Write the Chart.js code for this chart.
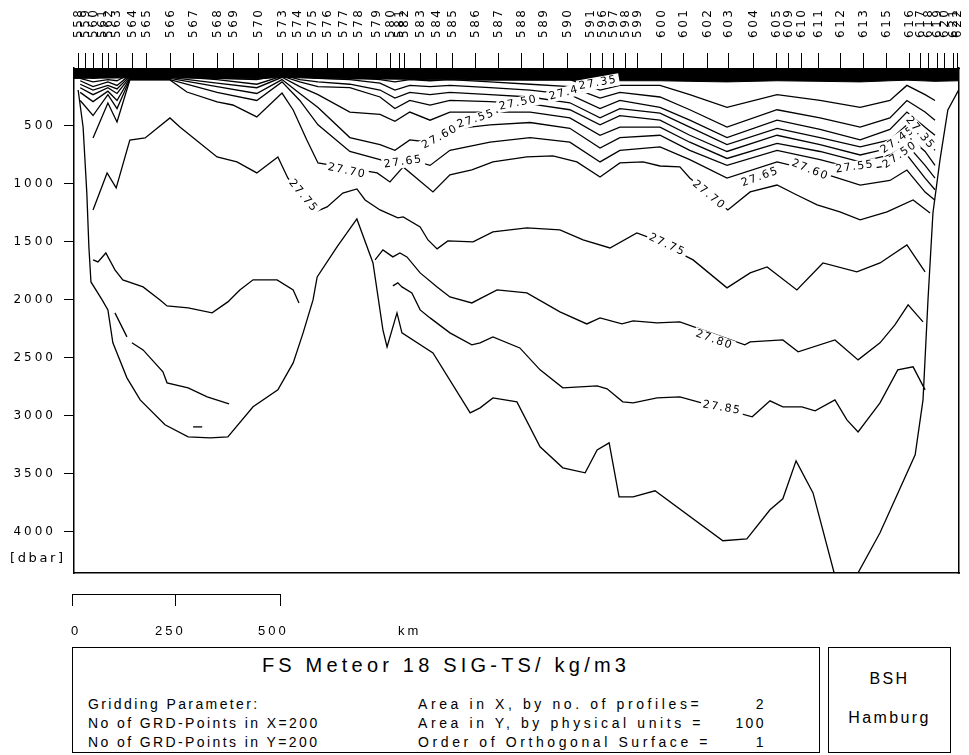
<!DOCTYPE html>
<html>
<head>
<meta charset="utf-8">
<script src="https://cdn.jsdelivr.net/npm/chart.js@4.4.1/dist/chart.umd.min.js"></script>
<style>
  body { margin: 0; background: #fff; width: 969px; height: 755px; position: relative; overflow: hidden;
         font-family: "Liberation Sans", Arial, sans-serif; color: #000; }
  #wrap { position: absolute; left: 0; top: 0; width: 969px; height: 600px; }
  .t { position: absolute; white-space: nowrap; line-height: 1; font-size: 14px; letter-spacing: 2.4px; }
  .r { letter-spacing: 3.6px; }
  .box { position: absolute; border: 1px solid #000; }
  .ln { position: absolute; background: #000; }
</style>
</head>
<body>
<div id="wrap"><canvas id="c" width="969" height="600"></canvas></div>

<div class="t" style="left:10px;top:551px;font-family:'DejaVu Sans';font-size:13px;letter-spacing:2.6px">[dbar]</div>

<!-- distance scale -->
<div class="ln" style="left:72px;top:594px;width:209px;height:1px"></div>
<div class="ln" style="left:72px;top:594px;width:1px;height:12px"></div>
<div class="ln" style="left:175px;top:594px;width:1px;height:12px"></div>
<div class="ln" style="left:280px;top:594px;width:1px;height:12px"></div>
<div class="t" style="left:71px;top:624px;font-size:13px;letter-spacing:3px">0</div>
<div class="t" style="left:155px;top:624px;font-size:13px;letter-spacing:3px">250</div>
<div class="t" style="left:258px;top:624px;font-size:13px;letter-spacing:3px">500</div>
<div class="t" style="left:398px;top:624px;font-size:13px;letter-spacing:3px">km</div>

<!-- info boxes -->
<div class="box" style="left:72px;top:647px;width:746px;height:104px"></div>
<div class="box" style="left:828px;top:647px;width:121px;height:104px"></div>
<div class="t" style="left:72px;width:748px;text-align:center;top:655px;font-size:20px;letter-spacing:4.2px">FS Meteor 18 SIG-TS/ kg/m3</div>
<div class="t" style="left:88px;top:697px">Gridding Parameter:</div>
<div class="t" style="left:88px;top:716px">No of GRD-Points in X=200</div>
<div class="t" style="left:88px;top:735px">No of GRD-Points in Y=200</div>
<div class="t r" style="left:418px;top:697px">Area in X, by no. of profiles=</div>
<div class="t r" style="left:418px;top:716px">Area in Y, by physical units =</div>
<div class="t r" style="left:418px;top:735px">Order of Orthogonal Surface =</div>
<div class="t" style="right:203px;top:697px">2</div>
<div class="t" style="right:203px;top:716px">100</div>
<div class="t" style="right:203px;top:735px">1</div>
<div class="t" style="left:828px;width:123px;text-align:center;top:671px;font-size:16px">BSH</div>
<div class="t" style="left:828px;width:123px;text-align:center;top:710px;font-size:16px">Hamburg</div>

<script>
// stations along the section (top axis)
const stationNames = ['558','559','560','561','562','563','564','565','566','567','568','569','570',
  '573','574','575','576','577','578','579','580','581','582','583','584','585','586','587','588',
  '589','590','591','596','597','598','599','600','601','602','603','604','605','609','610','611',
  '612','613','615','616','617','618','619','620','621','622'];
const stationKm = [10,27,46,68,82,102,140,174,232,288,346,384,445,
  503,539,575,611,650,687,730,764,786,798,837,875,914,970,1025,1081,
  1134,1192,1248,1277,1303,1332,1361,1419,1473,1531,1581,1642,1697,1726,1758,1799,
  1852,1908,1963,2019,2046,2065,2087,2104,2125,2135];
const depthTicks = [500,1000,1500,2000,2500,3000,3500,4000];

// sea floor
const floorKm = [10,22,31,36,41,68,82,94,128,160,220,276,329,372,433,493,530,554,578,588,636,684,723,747,757,
  781,793,868,958,982,1013,1071,1127,1182,1236,1265,1294,1318,1352,1405,1569,1627,1683,1714,1746,1787,1838,
  1867,1896,1949,2034,2053,2065,2077,2094,2113,2142];
const floorDbar = [190,509,1078,1543,1845,2000,2086,2370,2672,2862,3077,3181,3189,3181,2922,2776,2543,2284,2000,1802,
  1543,1302,1681,2258,2405,2112,2284,2457,2974,2931,2845,2879,3267,3448,3491,3293,3233,3698,3698,3646,4077,4060,
  3810,3715,3388,3664,4353,4586,4353,4008,3336,2862,2000,1250,793,362,172];

// dense surface layer
const bandKm = [0,135,232,346,442,503,590,667,740,861,1006,1103,1199,1272,1320,1417,1489,1579,1700,1804,1901,1973,2014,2082,2140];
const bandDbar = [90,85,85,90,95,80,90,95,95,100,105,105,105,115,110,110,115,120,110,115,120,110,105,115,110];

// upper isopycnals 27.30 ... 27.65 on common columns
const upperKm = [15,46,82,104,135,232,346,442,503,546,590,667,740,776,812,861,909,1006,1103,1199,1272,1320,1417,1489,1579,1700,1804,1901,1973,2014,2058,2082];
const sig3000 = [30,50,40,50,30,30,40,40,30,40,50,60,70,80,70,80,80,90,100,100,190,150,150,230,340,230,280,340,280,150,230,280];
const sig3500 = [60,90,70,80,40,40,50,60,40,50,70,80,100,120,100,110,100,120,140,160,260,210,250,360,510,360,430,510,430,280,380,450];
const sig4000 = [90,120,100,110,50,50,70,80,50,70,90,100,130,190,150,160,150,170,190,230,350,280,340,450,600,450,530,620,530,380,510,580];
const sig4500 = [110,160,120,150,60,60,90,100,60,100,120,140,190,260,210,230,210,230,250,300,430,350,390,510,660,520,600,680,620,490,620,710];
const sig5000 = [140,190,150,180,70,70,100,140,70,120,160,170,250,350,280,320,280,290,310,360,490,410,450,580,720,580,660,750,690,580,720,840];
const sig5500 = [170,230,170,220,80,80,130,170,80,160,230,380,400,460,380,450,380,380,380,430,580,510,510,640,780,650,720,810,750,660,840,950];
const sig6000 = [210,290,200,280,90,90,160,220,100,220,340,600,660,710,620,640,530,490,470,520,690,600,580,710,840,710,790,880,840,750,950,1050];
const sig6500 = [280,410,230,350,100,100,210,280,120,280,490,720,790,840,790,840,710,640,600,640,810,710,680,790,950,810,900,1010,970,880,1070,1140];

// 27.70
const sig7000Km = [46,82,104,135,232,273,346,384,442,503,530,563,590,733,764,796,868,909,962,1013,1095,1158,1216,1272,1320,
  1376,1417,1465,1489,1581,1635,1700,1748,1797,1852,1901,1966,2029,2070];
const sig7000 = [603,302,465,103,103,207,293,319,422,216,362,621,819,905,983,853,1069,922,879,810,767,758,810,940,819,
  810,845,853,948,1224,1069,1009,1095,1181,1241,1310,1241,1138,1250];
// 27.75
const sig7500Km = [46,80,102,135,172,232,256,346,394,442,493,517,583,612,650,684,704,740,783,796,837,856,878,904,965,
  1013,1095,1175,1231,1296,1361,1393,1497,1579,1635,1676,1748,1811,1893,1949,2014,2058];
const sig7500 = [1224,905,1034,621,603,431,509,767,810,905,767,948,1241,1198,1078,1043,1138,1224,1293,1284,1371,1483,1560,1491,1500,
  1414,1379,1396,1483,1552,1422,1465,1655,1896,1767,1715,1914,1681,1758,1681,1526,1758];
// 27.80 west basin and main section
const sig8000WKm = [46,58,77,99,118,167,208,225,276,334,372,401,433,491,530,544];
const sig8000W = [1655,1672,1595,1741,1827,1888,2000,2052,2069,2112,2017,1914,1827,1827,1914,2026];
const sig8000Km = [728,747,771,788,805,837,878,909,962,1023,1095,1175,1240,1272,1325,1352,1410,1465,1622,1635,
  1714,1751,1840,1896,1949,1985,2017,2053];
const sig8000 = [1655,1569,1629,1595,1629,1767,1888,1974,2026,1914,1940,2103,2207,2155,2207,2181,2198,2189,2388,2362,
  2345,2448,2345,2517,2370,2215,2043,2189];
// 27.85
const sig8500WKm = [99,128,134,140,167,215,225,276,322,375];
const sig8500W = [2112,2319,null,2370,2431,2620,2715,2758,2836,2896];
const sig8500DashKm = [288,310];
const sig8500Dash = [3095,3095];
const sig8500Km = [771,783,793,817,837,861,909,962,982,1013,1078,1127,1182,1265,1289,1327,1352,1410,1465,1640,
  1683,1714,1760,1792,1840,1869,1896,1949,1992,2029,2058];
const sig8500 = [1879,1853,1888,1940,2086,2155,2284,2388,2370,2319,2414,2603,2758,2741,2767,2879,2888,2845,2836,3008,
  2870,2922,2922,2957,2862,3034,3138,2888,2603,2577,2776];

// contour labels
const isoLabels = [
  { t: '27.70', km: 660,  dbar: 888,  a: 12 },
  { t: '27.75', km: 554,  dbar: 1103, a: 50 },
  { t: '27.65', km: 796,  dbar: 810,  a: -8 },
  { t: '27.60', km: 885,  dbar: 595,  a: -28 },
  { t: '27.55', km: 972,  dbar: 440,  a: -18 },
  { t: '27.50', km: 1074, dbar: 302,  a: -12 },
  { t: '27.45', km: 1195, dbar: 207,  a: -15 },
  { t: '27.35', km: 1267, dbar: 129,  a: -10 },
  { t: '27.75', km: 1434, dbar: 1526, a: 25 },
  { t: '27.70', km: 1535, dbar: 1095, a: 40 },
  { t: '27.80', km: 1548, dbar: 2345, a: 20 },
  { t: '27.85', km: 1567, dbar: 2931, a: 10 },
  { t: '27.65', km: 1659, dbar: 940,  a: -20 },
  { t: '27.60', km: 1780, dbar: 879,  a: 22 },
  { t: '27.55', km: 1888, dbar: 853,  a: -8 },
  { t: '27.50', km: 1997, dbar: 750,  a: -35 },
  { t: '27.45', km: 1992, dbar: 621,  a: -35 },
  { t: '27.35', km: 2046, dbar: 560,  a: 50 }
];

function line(kms, depths, w) {
  return {
    data: kms.map((k, i) => ({ x: k, y: depths[i] })),
    showLine: true, borderColor: '#000', borderWidth: w || 1.3,
    pointRadius: 0, fill: false, spanGaps: false, clip: 0
  };
}

const band = line(bandKm, bandDbar, 1);
band.fill = 'origin';
band.backgroundColor = '#000';

const datasets = [
  band,
  line(upperKm, sig3000), line(upperKm, sig3500), line(upperKm, sig4000), line(upperKm, sig4500),
  line(upperKm, sig5000), line(upperKm, sig5500), line(upperKm, sig6000), line(upperKm, sig6500),
  line(sig7000Km, sig7000), line(sig7500Km, sig7500),
  line(sig8000WKm, sig8000W), line(sig8000Km, sig8000),
  line(sig8500WKm, sig8500W), line(sig8500DashKm, sig8500Dash), line(sig8500Km, sig8500),
  line(floorKm, floorDbar)
];

const labelPlugin = {
  id: 'isoLabels',
  beforeDraw(chart) {
    chart.ctx.letterSpacing = '3px';
  },
  afterDatasetsDraw(chart) {
    const { ctx } = chart;
    const x = chart.scales.x, y = chart.scales.y;
    ctx.save();
    ctx.font = '11px "DejaVu Sans"';
    ctx.letterSpacing = '1.5px';
    ctx.textAlign = 'center';
    ctx.textBaseline = 'middle';
    isoLabels.forEach(l => {
      ctx.save();
      ctx.translate(x.getPixelForValue(l.km), y.getPixelForValue(l.dbar));
      ctx.rotate(l.a * Math.PI / 180);
      const w = ctx.measureText(l.t).width;
      ctx.fillStyle = '#fff';
      ctx.fillRect(-w / 2 - 2, -6, w + 4, 12);
      ctx.fillStyle = '#000';
      ctx.fillText(l.t, 0, 0);
      ctx.restore();
    });
    // station tick marks and numbers, written upward
    const top = chart.scales.xTop;
    const y0 = chart.chartArea.top;
    ctx.strokeStyle = '#000';
    ctx.lineWidth = 1;
    ctx.font = '12px "DejaVu Sans"';
    ctx.letterSpacing = '2.5px';
    ctx.textAlign = 'left';
    stationKm.forEach((k, i) => {
      const px = Math.round(top.getPixelForValue(k)) + 0.5;
      ctx.beginPath();
      ctx.moveTo(px, y0 - 15);
      ctx.lineTo(px, y0);
      ctx.stroke();
      ctx.save();
      ctx.translate(px, 38);
      ctx.rotate(-Math.PI / 2);
      ctx.fillText(stationNames[i], 0, 0);
      ctx.restore();
    });
    ctx.restore();
  }
};

new Chart(document.getElementById('c'), {
  type: 'scatter',
  data: { datasets },
  options: {
    responsive: false,
    animation: false,
    events: [],
    layout: { padding: { left: 0, right: 10, top: 0, bottom: 27 } },
    plugins: { legend: { display: false }, tooltip: { enabled: false } },
    scales: {
      x: {
        type: 'linear', position: 'bottom', min: 0, max: 2140,
        ticks: { display: false }, grid: { display: false },
        border: { display: true, color: '#000', width: 1.5 },
        afterFit(s) { s.height = 0; }
      },
      xTop: {
        type: 'linear', position: 'top', min: 0, max: 2140,
        ticks: { display: false }, grid: { display: false },
        border: { display: true, color: '#000' },
        afterFit(s) { s.height = 68; }
      },
      y: {
        type: 'linear', position: 'left', reverse: true, min: 0, max: 4355,
        afterBuildTicks(s) { s.ticks = depthTicks.map(v => ({ value: v })); },
        ticks: { color: '#000', padding: 8, font: { family: 'DejaVu Sans', size: 12 }, callback: v => String(v) },
        grid: { drawOnChartArea: false, tickLength: 10, color: '#000' },
        border: { display: true, color: '#000', width: 1.5 },
        afterFit(s) { s.width = 74; }
      },
      yR: {
        type: 'linear', position: 'right', min: 0, max: 4355,
        ticks: { display: false }, grid: { display: false },
        border: { display: true, color: '#000', width: 1.5 },
        afterFit(s) { s.width = 0; }
      }
    }
  },
  plugins: [labelPlugin]
});
</script>
</body>
</html>
